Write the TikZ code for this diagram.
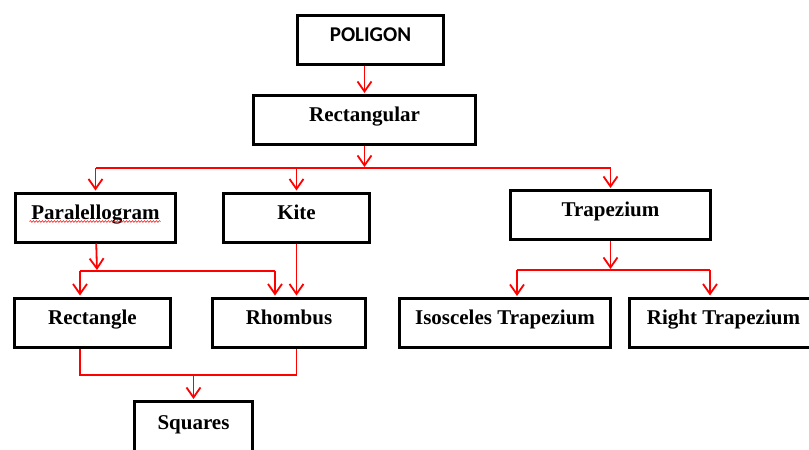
\documentclass[tikz,border=0pt]{standalone}
\usepackage{fontspec}
\setmainfont{Liberation Serif}
\newfontfamily\calibri{Carlito}
\usetikzlibrary{arrows.meta,decorations.pathmorphing}

\begin{document}
\begin{tikzpicture}[x=1pt, y=-1pt, every node/.style={text centered, font=\fontsize{21}{24}\selectfont\bfseries, text height=14pt, text depth=11pt}]

% Define styles
\tikzstyle{box} = [rectangle, fill=white, draw=black, line width=3pt, minimum height=49pt]
\tikzstyle{line} = [red, line width=1.8pt]
\tikzstyle{arrow} = [line, -{Straight Barb[length=10pt, width=14pt]}, shorten >=1pt]
\tikzstyle{squiggle} = [red, line width=0.5pt, decorate, decoration={snake, amplitude=0.9pt, segment length=3pt}]

\clip (0,0) rectangle (809,450);
\useasboundingbox (0,0) rectangle (809,450);

% Nodes
\node[box, minimum width=146pt] (poligon) at (370.5,40) {\calibri POLIGON};
\node[box, minimum width=222pt] (rectangular) at (364.5,120) {Rectangular};

\node[box, minimum width=160pt] (paralellogram) at (95.5,217.5) {Paralellogram};
\node[box, minimum width=146pt] (kite) at (296.5,217.5) {Kite};
\node[box, minimum width=200pt] (trapezium) at (610.5,215) {Trapezium};

\node[box, minimum width=156pt] (rectangle) at (92.5,322.5) {Rectangle};
\node[box, minimum width=153pt] (rhombus) at (289,322.5) {Rhombus};
\node[box, minimum width=211pt] (isosceles) at (505,323) {Isosceles Trapezium};
\node[box, minimum width=188pt] (right) at (723.5,322.5) {Right Trapezium};

\node[box, minimum width=118pt, minimum height=52pt] (squares) at (193.5,427.5) {Squares};

\draw[squiggle] ([xshift=-66pt, yshift=-2.5pt]paralellogram.base) -- ([xshift=65pt, yshift=-2.5pt]paralellogram.base);

% Junctions
\coordinate (split1) at (364.5,168);
\coordinate (split2) at (97,271);
\coordinate (split3) at (610.5,270);
\coordinate (merge) at (193.5,375);

% Connectors
\draw[arrow] (poligon.south -| rectangular) -- (rectangular);
\draw[arrow] (rectangular) -- (split1);
\draw[line] (paralellogram |- split1) -- (trapezium |- split1);
\draw[arrow] (paralellogram |- split1) -- (paralellogram);
\draw[arrow] (kite |- split1) -- (kite);
\draw[arrow] (trapezium |- split1) -- (trapezium);

\draw[arrow] (paralellogram) -- (split2);
\draw[line] ([xshift=-12.5pt]rectangle.north |- split2) -- ([xshift=-14pt]rhombus.north |- split2);
\draw[arrow] ([xshift=-12.5pt]rectangle.north |- split2) -- ([xshift=-12.5pt]rectangle.north);
\draw[arrow] ([xshift=-14pt]rhombus.north |- split2) -- ([xshift=-14pt]rhombus.north);
\draw[arrow] (kite) -- (kite |- rhombus.north);

\draw[arrow] (trapezium) -- (split3);
\draw[line] ([xshift=12pt]isosceles.north |- split3) -- ([xshift=-13.5pt]right.north |- split3);
\draw[arrow] ([xshift=12pt]isosceles.north |- split3) -- ([xshift=12pt]isosceles.north);
\draw[arrow] ([xshift=-13.5pt]right.north |- split3) -- ([xshift=-13.5pt]right.north);

\draw[line] ([xshift=-12.5pt]rectangle.south) |- (merge) -| (rhombus.south -| kite);
\draw[arrow] (merge) -- (squares);

\end{tikzpicture}
\end{document}
